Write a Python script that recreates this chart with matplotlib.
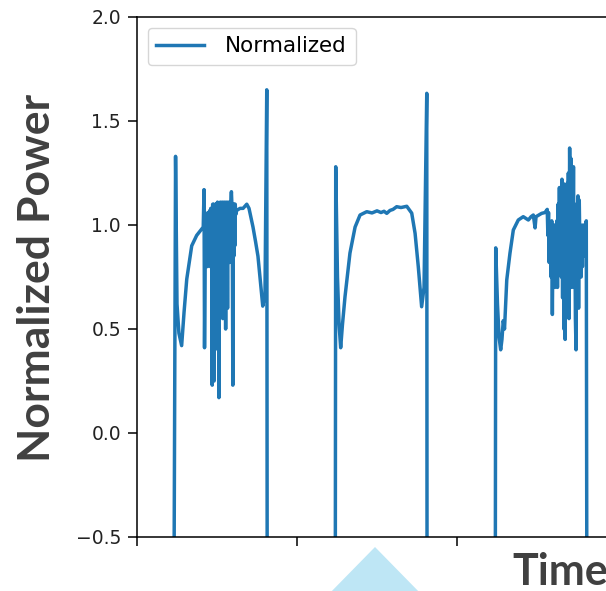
import matplotlib
matplotlib.use("Agg")
import matplotlib.pyplot as plt
from matplotlib.patches import Polygon

# normalized power trace (sample index, value), three load cycles
t1 = [230, 241, 250, 262, 279, 294, 311, 342, 373, 414, 419, 422,
      428, 431, 434, 437, 440, 443, 446, 449, 452, 455, 458, 461, 464, 467,
      470, 473, 476, 479, 482, 485, 488, 491, 494, 497, 500, 503, 506, 509,
      512, 515, 518, 521, 524, 527, 530, 533, 536, 539, 542, 545, 548, 551,
      554, 557, 560, 563, 566, 569, 572, 575, 578, 581, 584, 587, 590, 593,
      596, 599, 602, 605, 608, 611, 614, 617, 623,
      644, 663, 686, 700, 725, 741, 756, 772, 786, 800, 811, 814]
p1 = [-1.0, 1.33, 0.62, 0.48, 0.42, 0.58, 0.74, 0.90, 0.95, 0.99, 1.17, 0.41,
      1.02, 1.04, 0.85, 1.05, 0.80, 1.06, 0.95, 1.04, 0.82, 1.07, 0.80, 1.08,
      0.86, 1.08, 0.23, 1.10, 0.82, 1.10, 0.25, 1.09, 0.84, 1.10, 0.60, 1.10,
      0.82, 1.11, 0.40, 1.10, 0.17, 1.10, 0.80, 1.11, 0.75, 1.10, 0.82, 1.11,
      0.55, 1.10, 0.85, 1.11, 0.80, 1.10, 0.50, 1.11, 0.84, 1.10, 0.60, 1.11,
      0.85, 1.10, 0.82, 1.11, 0.95, 1.12, 1.16, 1.10, 0.86, 0.23, 1.10, 0.85,
      1.10, 0.90, 1.10, 1.05, 1.07,
      1.08, 1.08, 1.10, 1.08, 0.99, 0.92, 0.85, 0.72, 0.61, 0.67, 1.65, -1.0]

t2 = [1239, 1242, 1253, 1263, 1273, 1284, 1300, 1331, 1363, 1394, 1436, 1469,
      1500, 1525, 1544, 1561, 1581, 1600, 1623, 1650, 1686, 1717, 1738, 1758,
      1779, 1794, 1811, 1813]
p2 = [-1.0, 1.28, 0.75, 0.52, 0.41, 0.52, 0.655, 0.865, 0.99, 1.048, 1.064,
      1.058, 1.068, 1.060, 1.066, 1.056, 1.070, 1.075, 1.088, 1.084, 1.090,
      1.057, 0.96, 0.80, 0.607, 0.70, 1.633, -1.0]

t3 = [2239, 2242, 2253, 2263, 2273, 2281, 2289, 2297, 2311, 2331, 2352, 2383,
      2414, 2446, 2463, 2477, 2488, 2494, 2529, 2550, 2564,
      2568, 2572, 2576, 2580, 2584, 2588, 2592, 2596, 2600, 2604, 2608, 2612,
      2616, 2620, 2624, 2628, 2632, 2636, 2640, 2644, 2648, 2652, 2656, 2660,
      2664, 2668, 2672, 2676, 2680, 2684, 2688, 2692, 2696, 2700, 2704, 2708,
      2712, 2716, 2720, 2724, 2728, 2732, 2736, 2740, 2744, 2748, 2752, 2756,
      2760, 2764, 2768, 2772, 2776, 2780, 2784, 2788, 2792, 2796, 2800, 2804,
      2808, 2812, 3300]
p3 = [-1.0, 0.89, 0.62, 0.46, 0.40, 0.45, 0.54, 0.50, 0.736, 0.864, 0.976,
      1.024, 1.04, 1.024, 1.04, 1.048, 0.986, 1.04, 1.056, 1.06, 1.075,
      0.95, 1.06, 0.82, 1.00, 0.90, 0.75, 1.02, 0.57, 0.95, 0.80, 1.00, 0.70,
      0.98, 0.85, 1.02, 0.70, 1.10, 0.88, 1.18, 0.85, 1.12, 0.75, 1.22, 0.65,
      1.20, 0.50, 0.95, 0.45, 1.15, 0.70, 1.20, 0.60, 1.25, 0.55, 1.37, 0.95,
      1.32, 0.70, 1.25, 0.85, 1.28, 0.70, 1.10, 0.55, 0.40, 1.05, 0.80, 1.14,
      0.60, 1.12, 0.90, 1.00, 0.75, 0.95, 0.80, 1.00, 0.85, 0.95, 0.88, 1.00,
      1.02, -1.0, -1.0]

time = t1 + t2 + t3
power = p1 + p2 + p3

yticks = [-0.5, 0.0, 0.5, 1.0, 1.5, 2.0]
xticks = [0, 1000, 2000, 3000]

W, H = 606, 591
fig = plt.figure(figsize=(W / 100, H / 100), dpi=100)
ax = fig.add_axes([137 / W, 54 / H, 512 / W, 520 / H])

ax.plot(time, power, color='#1f77b4', lw=2.5, label='Normalized')
ax.set_xlim(0, 3200)
ax.set_ylim(-0.5, 2.0)
ax.set_yticks(yticks)
ax.set_yticklabels(['%.1f' % v if v >= 0 else '\u22120.5' for v in yticks])
ax.set_xticks(xticks)
ax.set_xticklabels([])
ax.tick_params(length=6.5, width=1.1, labelsize=13.5, labelcolor='#222222', pad=5)
for s in ax.spines.values():
    s.set_linewidth(1.1)

leg = ax.legend(loc='upper left', fontsize=15.5, handlelength=2.2,
                handletextpad=1.0, borderaxespad=0.5, fancybox=True)
leg.get_frame().set_edgecolor('#cccccc')

# slide-style axis titles
fig.text(37 / W, 1 - 278 / H, 'Normalized Power', rotation=90, ha='center',
         va='center', family=['Lato', 'DejaVu Sans'], fontweight='bold',
         fontsize=32, color='#404040')
fig.text(512 / W, 1 - 585 / H, 'Time', ha='left', va='baseline',
         family=['Lato', 'DejaVu Sans'], fontweight='bold', fontsize=31,
         color='#404040')

# pointer triangle under the axis
tri = [(375, 547), (326, 597), (424, 597)]
fig.patches.append(Polygon([(x / W, 1 - y / H) for x, y in tri], closed=True,
                           transform=fig.transFigure, facecolor='#bee6f5',
                           edgecolor='none'))

fig.savefig('out.png', dpi=100)
